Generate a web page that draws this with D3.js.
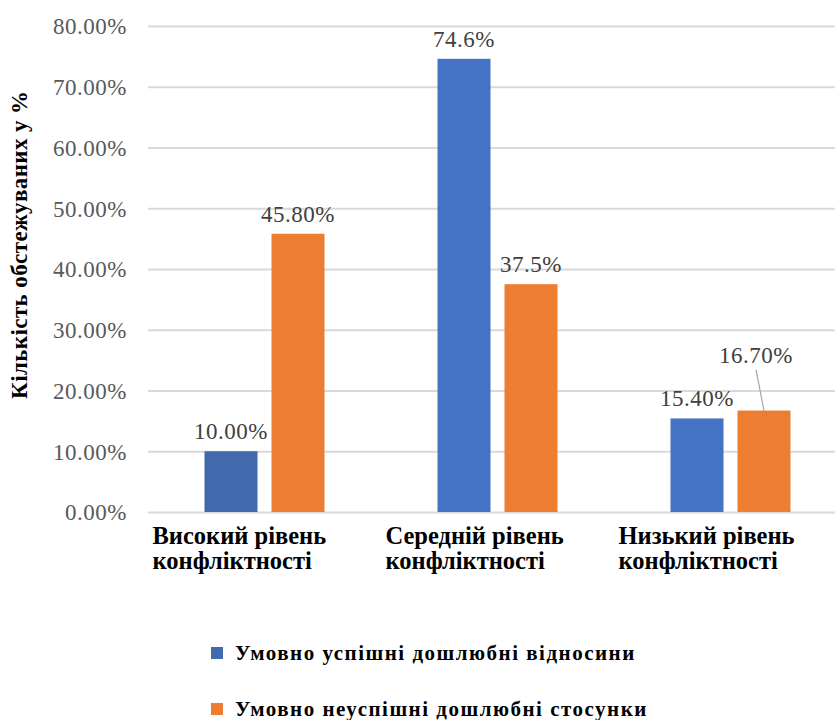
<!DOCTYPE html>
<html>
<head>
<meta charset="utf-8">
<script src="https://cdn.jsdelivr.net/npm/d3@7"></script>
<style>
  body { margin: 0; background: #fff; }
  svg { display: block; }
</style>
</head>
<body>
<div id="chart"></div>
<script>
/* DATA */
const categories = ["Високий рівень конфліктності", "Середній рівень конфліктності", "Низький рівень конфліктності"];
const categoryLines = [["Високий рівень", "конфліктності"], ["Середній рівень", "конфліктності"], ["Низький рівень", "конфліктності"]];
const seriesNames = ["Умовно успішні дошлюбні відносини", "Умовно неуспішні дошлюбні стосунки"];
const successValues = [10.0, 74.6, 15.4];
const failValues = [45.8, 37.5, 16.7];
const successLabels = ["10.00%", "74.6%", "15.40%"];
const failLabels = ["45.80%", "37.5%", "16.70%"];
const yTicks = [0, 10, 20, 30, 40, 50, 60, 70, 80];
const yTitle = "Кількість обстежуваних у %";

/* CONSTANTS */
const width = 835,
  height = 720,
  margin = { top: 26, bottom: 208, left: 148, right: -12 };
const colors = ["#4472C4", "#ED7D31"];
const serif = '"Liberation Serif", "Times New Roman", Tinos, monospace';

const svg = d3.select("#chart")
  .append("svg")
  .attr("width", width)
  .attr("height", height);

// scales
const x0 = d3.scaleBand()
  .domain(categories)
  .range([margin.left, width - margin.right])
  .paddingInner(0.485)
  .paddingOuter(0.2425);

const x1 = d3.scaleBand()
  .domain([0, 1])
  .range([0, x0.bandwidth()])
  .paddingInner(0.209);

const yScale = d3.scaleLinear()
  .domain([0, 80])
  .range([height - margin.bottom, margin.top]);

// gridlines
const yAxis = d3.axisLeft(yScale)
  .tickValues(yTicks)
  .tickSize(-(width - margin.left + 20))
  .tickPadding(20)
  .tickFormat(d => d3.format(".2f")(d) + "%");

const gy = svg.append("g")
  .attr("transform", `translate(${margin.left}, 0)`)
  .call(yAxis)
  .attr("font-family", null)
  .attr("font-size", null);
gy.select(".domain").remove();
gy.selectAll(".tick line")
  .attr("stroke", "#d9d9d9")
  .attr("stroke-width", 2);
gy.selectAll(".tick text")
  .style("font-family", serif)
  .attr("font-size", 23)
  .attr("letter-spacing", 0.5)
  .attr("fill", "#595959")
  .attr("x", -21)
  .attr("dy", "0.34em");

// y title
svg.append("text")
  .attr("transform", `translate(27, ${yScale(44)}) rotate(-90)`)
  .attr("text-anchor", "middle")
  .style("font-family", serif)
  .attr("font-weight", "bold")
  .attr("font-size", 23)
  .attr("letter-spacing", 0.4)
  .attr("fill", "#000")
  .text(yTitle);

// bars
const rows = categories.map((c, i) => ({
  cat: c,
  vals: [successValues[i], failValues[i]],
  labels: [successLabels[i], failLabels[i]]
}));

const group = svg.selectAll("g.group")
  .data(rows)
  .join("g")
  .attr("class", "group")
  .attr("transform", d => `translate(${x0(d.cat)}, 0)`);

const cells = group.selectAll("g.cell")
  .data((d, gi) => d.vals.map((v, s) => ({ v, s, gi, label: d.labels[s] })))
  .join("g")
  .attr("class", "cell");

cells.append("rect")
  .attr("x", d => x1(d.s))
  .attr("width", x1.bandwidth())
  .attr("y", d => yScale(d.v))
  .attr("height", d => yScale(0) - yScale(d.v))
  .attr("fill", d => (d.gi === 0 && d.s === 0) ? "#4169AE" : colors[d.s]);

// data labels; the last orange one sits higher with a leader line
const moved = d => d.gi === 2 && d.s === 1;

cells.append("text")
  .attr("x", d => x1(d.s) + x1.bandwidth() / 2 + (moved(d) ? -8 : 0))
  .attr("y", d => yScale(d.v) - 12 - (moved(d) ? 36 : 0))
  .attr("text-anchor", "middle")
  .style("font-family", serif)
  .attr("font-size", 23)
  .attr("letter-spacing", 0.5)
  .attr("fill", "#404040")
  .text(d => d.label);

cells.filter(moved)
  .append("line")
  .attr("x1", d => x1(d.s) + x1.bandwidth() / 2 - 8)
  .attr("y1", d => yScale(d.v) - 41)
  .attr("x2", d => x1(d.s) + x1.bandwidth() / 2)
  .attr("y2", d => yScale(d.v))
  .attr("stroke", "#a6a6a6")
  .attr("stroke-width", 1.2);

// category labels
svg.selectAll("text.cat")
  .data(categories)
  .join("text")
  .attr("class", "cat")
  .style("font-family", serif)
  .attr("font-weight", "bold")
  .attr("font-size", 24.5)
  .attr("fill", "#000")
  .each(function (d, i) {
    const t = d3.select(this);
    categoryLines[i].forEach((line, k) => {
      t.append("tspan")
        .attr("x", x0(d) - 52)
        .attr("y", yScale(0) + 32 + k * 25)
        .text(line);
    });
  });

// legend
const legend = svg.selectAll("g.legend")
  .data(seriesNames)
  .join("g")
  .attr("class", "legend")
  .attr("transform", (d, i) => `translate(211, ${647 + i * 56})`);

legend.append("rect")
  .attr("width", 12)
  .attr("height", 12)
  .attr("fill", (d, i) => i === 0 ? "#4169AE" : colors[i]);

legend.append("text")
  .attr("x", 24)
  .attr("y", 13)
  .style("font-family", serif)
  .attr("font-weight", "bold")
  .attr("font-size", 21)
  .attr("letter-spacing", 1.5)
  .attr("fill", "#000")
  .text(d => d);
</script>
</body>
</html>
